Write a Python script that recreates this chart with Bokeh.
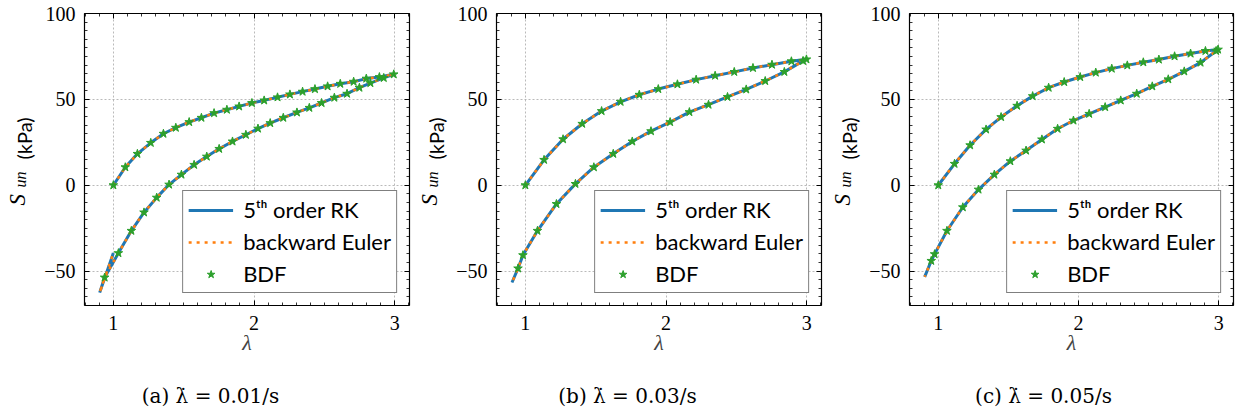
import numpy as np
from bokeh.plotting import figure
from bokeh.models import (Range1d, SingleIntervalTicker, LinearAxis, Label,
                          Legend, CustomJSTickFormatter)
from bokeh.layouts import row, column
from bokeh.embed import file_html
from bokeh.resources import INLINE

# ---------------- data ----------------
# panel (a)  rate 0.01/s
lam_load_a = [1.0, 1.085, 1.171, 1.266, 1.356, 1.444, 1.539, 1.626, 1.716, 1.807, 1.894, 1.985,
              2.072, 2.167, 2.255, 2.345, 2.433, 2.523, 2.613, 2.708, 2.798, 2.891, 2.993]
s_load_a = [0.0, 10.5, 18.3, 24.7, 30.0, 33.5, 36.8, 39.3, 42.0, 44.0, 45.9, 47.9,
            49.4, 51.2, 52.9, 54.5, 56.0, 57.6, 59.1, 60.3, 62.1, 63.0, 64.6]
lam_unload_a = [2.922, 2.827, 2.749, 2.661, 2.571, 2.480, 2.393, 2.305, 2.208, 2.115, 2.028, 1.942,
                1.847, 1.752, 1.664, 1.574, 1.484, 1.396, 1.308, 1.218, 1.128, 1.036, 0.938]
s_unload_a = [62.5, 59.5, 56.8, 53.3, 51.0, 47.9, 45.1, 42.4, 39.3, 36.2, 33.0, 29.4,
              25.5, 21.2, 16.7, 11.9, 6.2, 0.4, -7.2, -15.8, -26.5, -39.5, -53.7]
lam_tail_a = [0.903, 1.0]
s_tail_a = [-62.5, -39.5]

# panel (b)  rate 0.03/s
lam_load_b = [1.0, 1.133, 1.268, 1.404, 1.542, 1.677, 1.810, 1.945, 2.081, 2.214, 2.349, 2.485,
              2.618, 2.753, 2.891, 2.998]
s_load_b = [0.0, 14.8, 26.8, 35.8, 43.2, 48.6, 52.7, 56.0, 58.8, 61.5, 63.8, 66.0,
            68.3, 70.2, 72.2, 73.3]
lam_unload_b = [2.974, 2.841, 2.705, 2.570, 2.437, 2.302, 2.166, 2.029, 1.893, 1.760, 1.625, 1.487,
                1.356, 1.221, 1.086, 0.983, 0.948]
s_unload_b = [72.4, 66.0, 60.7, 55.8, 51.4, 46.9, 42.6, 36.8, 31.5, 25.5, 18.3, 10.5,
              0.8, -10.9, -26.5, -40.7, -48.4]
lam_tail_b = [0.905]
s_tail_b = [-56.6]

# panel (c)  rate 0.05/s
lam_load_c = [1.0, 1.116, 1.227, 1.341, 1.448, 1.562, 1.673, 1.787, 1.898, 2.012, 2.123, 2.237,
              2.348, 2.462, 2.573, 2.685, 2.799, 2.905, 2.995]
s_load_c = [0.0, 12.5, 23.3, 32.5, 39.7, 46.3, 51.9, 56.8, 60.1, 63.0, 65.6, 67.9,
            69.8, 71.6, 73.2, 75.1, 76.7, 78.2, 79.0]
lam_unload_c = [2.981, 2.870, 2.754, 2.640, 2.526, 2.415, 2.301, 2.190, 2.076, 1.964, 1.851, 1.739,
                1.626, 1.514, 1.400, 1.287, 1.175, 1.062, 0.974, 0.950]
s_unload_c = [78.2, 71.4, 66.3, 61.7, 57.6, 53.3, 49.4, 45.5, 41.6, 37.7, 32.9, 26.7,
              20.2, 14.0, 6.2, -2.5, -12.8, -26.5, -40.1, -44.0]
lam_tail_c = [0.903]
s_tail_c = [-53.3]

captions = ["(a) λ̇ = 0.01/s", "(b) λ̇ = 0.03/s", "(c) λ̇ = 0.05/s"]
series_labels = ["5ᵗʰ order RK", "backward Euler", "BDF"]
y_label_parts = ["S", "un", "(kPa)"]
x_label = "λ"
x_ticks_interval = 1
y_ticks_interval = 50

SERIF = "Liberation Serif"
CAP_FONT = "DejaVu Serif"
SANS = "Lato"
C_RK, C_BE, C_BDF = "#1f77b4", "#ff7f0e", "#2ca02c"

YLAB_W = 40
LEFT_B = 44
TOP_B = 13
FRAME_H = 292
BOTTOM_B = 60
MAIN_H = TOP_B + FRAME_H + BOTTOM_B
CAP_H = 414 - MAIN_H


def style_axis(ax, show_labels):
    ax.axis_line_color = "black"
    ax.axis_line_width = 1.2
    ax.major_tick_in = 5
    ax.major_tick_out = 0
    ax.minor_tick_in = 3
    ax.minor_tick_out = 0
    ax.major_tick_line_color = "black"
    ax.minor_tick_line_color = "black"
    ax.major_tick_line_width = 1
    ax.minor_tick_line_width = 0.8
    if show_labels:
        ax.major_label_text_font = SERIF
        ax.major_label_text_font_size = "20px"
        ax.major_label_text_color = "black"
    else:
        ax.formatter = CustomJSTickFormatter(code="return ''")
        ax.major_label_text_font_size = "1px"
        ax.major_label_standoff = 0


def blank_fig(w, h):
    f = figure(width=w, height=h, x_range=Range1d(0, 1), y_range=Range1d(0, 1),
               x_axis_location=None, y_axis_location=None, min_border=0,
               output_backend="svg", toolbar_location=None)
    f.outline_line_color = None
    for g in f.grid:
        g.visible = False
    return f


def make_panel(load_lam, load_s, unl_lam, unl_s, tail_lam, tail_s, caption,
               frame_w, right_border, cap_x):
    main_w = LEFT_B + frame_w + right_border
    p = figure(width=main_w, height=MAIN_H,
               x_range=Range1d(0.795, 3.105), y_range=Range1d(-70, 100),
               output_backend="svg", toolbar_location=None,
               min_border_left=LEFT_B, min_border_right=right_border,
               min_border_top=TOP_B, min_border_bottom=BOTTOM_B)
    p.outline_line_color = None
    p.background_fill_color = "white"

    xt = SingleIntervalTicker(interval=x_ticks_interval, num_minor_ticks=10)
    yt = SingleIntervalTicker(interval=y_ticks_interval, num_minor_ticks=10)
    p.xaxis.ticker = xt
    p.yaxis.ticker = yt
    top = LinearAxis(ticker=xt)
    right = LinearAxis(ticker=yt)
    p.add_layout(top, "above")
    p.add_layout(right, "right")

    bx = p.below[0]
    ly = p.left[0]
    style_axis(bx, True)
    style_axis(ly, True)
    style_axis(top, False)
    style_axis(right, False)
    bx.major_label_standoff = 10
    ly.major_label_standoff = 9
    ly.major_label_overrides = {-50: "−50"}
    bx.axis_label = x_label
    bx.axis_label_text_font = SERIF
    bx.axis_label_text_font_style = "italic"
    bx.axis_label_text_font_size = "22px"
    bx.axis_label_standoff = -3

    for g in p.grid:
        g.grid_line_color = "#a8a8a8"
        g.grid_line_dash = "2 2"
        g.grid_line_width = 0.8

    line_lam = load_lam + unl_lam + tail_lam
    line_s = load_s + unl_s + tail_s
    pts_lam = load_lam + unl_lam
    pts_s = load_s + unl_s

    r1 = p.line(line_lam, line_s, line_color=C_RK, line_width=3)
    r2 = p.line(line_lam, line_s, line_color=C_BE, line_width=2.5, line_dash="3 5")
    r3 = p.scatter(pts_lam, pts_s, marker="star", size=9, fill_color=C_BDF, line_color=C_BDF)

    legend = Legend(items=[(series_labels[0], [r1]), (series_labels[1], [r2]),
                           (series_labels[2], [r3])],
                    location="bottom_right")
    legend.label_text_font = SANS
    legend.label_text_font_size = "22px"
    legend.label_text_color = "black"
    legend.border_line_color = "black"
    legend.border_line_width = 1
    legend.background_fill_color = "white"
    legend.background_fill_alpha = 1
    legend.padding = 5
    legend.spacing = 5
    legend.margin = 12
    legend.glyph_width = 45
    legend.glyph_height = 20
    legend.label_height = 20
    legend.label_standoff = 10
    p.add_layout(legend)

    # rotated y-axis label  S_un (kPa); this figure's frame lines up with the main frame
    yl = blank_fig(YLAB_W, MAIN_H)
    yl.add_layout(Label(x=17, y=100, x_units="screen", y_units="screen", text=y_label_parts[0],
                        angle=np.pi / 2, text_font=SERIF, text_font_style="italic",
                        text_font_size="23px", text_align="left", text_baseline="middle",
                        text_color="black"))
    yl.add_layout(Label(x=20, y=118, x_units="screen", y_units="screen", text=y_label_parts[1],
                        angle=np.pi / 2, text_font=SERIF, text_font_style="italic",
                        text_font_size="16px", text_align="left", text_baseline="middle",
                        text_color="black"))
    yl.add_layout(Label(x=23, y=146, x_units="screen", y_units="screen", text=y_label_parts[2],
                        angle=np.pi / 2, text_font=SANS,
                        text_font_size="20px", text_align="left", text_baseline="middle",
                        text_color="black"))

    # caption under the panel
    cap = blank_fig(YLAB_W + main_w, CAP_H)
    cap.add_layout(Label(x=cap_x, y=19, x_units="screen", y_units="screen", text=caption,
                         text_font=CAP_FONT, text_font_size="20px", text_align="center",
                         text_baseline="middle", text_color="black"))
    return column(row(yl, p), cap)


pa = make_panel(lam_load_a, s_load_a, lam_unload_a, s_unload_a, lam_tail_a, s_tail_a,
                captions[0], 325, 3, 210)
pb = make_panel(lam_load_b, s_load_b, lam_unload_b, s_unload_b, lam_tail_b, s_tail_b,
                captions[1], 325, 4, 215)
pc = make_panel(lam_load_c, s_load_c, lam_unload_c, s_unload_c, lam_tail_c, s_tail_c,
                captions[2], 324, 8, 218)

layout = row(pa, pb, pc)
open("out.html", "w").write(file_html(layout, INLINE))
